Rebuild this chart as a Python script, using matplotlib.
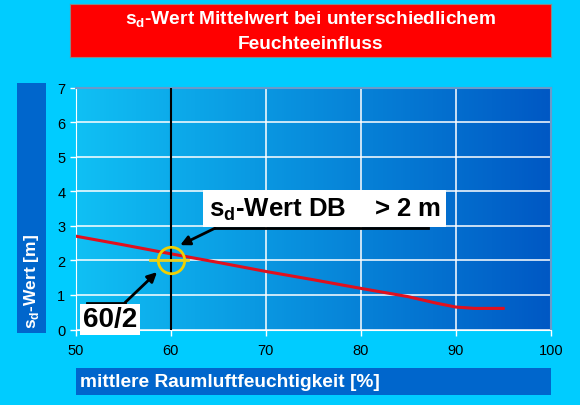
import numpy as np
import matplotlib
matplotlib.use("Agg")
import matplotlib.pyplot as plt
from matplotlib.colors import LinearSegmentedColormap

plt.rcParams['font.family'] = ['Liberation Sans', 'DejaVu Sans']
plt.rcParams['mathtext.fontset'] = 'custom'
plt.rcParams['mathtext.rm'] = 'Liberation Sans'
plt.rcParams['mathtext.bf'] = 'Liberation Sans:bold'

# data
humidity = [50, 55, 60, 65, 70, 75, 80, 85, 88, 90, 92, 95]
sd_value = [2.70, 2.45, 2.19, 1.94, 1.68, 1.44, 1.19, 0.95, 0.76, 0.65, 0.61, 0.61]
x_ticks = [50, 60, 70, 80, 90, 100]
y_ticks = [0, 1, 2, 3, 4, 5, 6, 7]
marker_x = 60
marker_y = 2

title = "s$_\\mathbf{d}$-Wert Mittelwert bei unterschiedlichem\nFeuchteeinfluss"
xlabel = "mittlere Raumluftfeuchtigkeit [%]"
ylabel = "s$_\\mathbf{d}$-Wert [m]"
note_big = "s$_\\mathbf{d}$-Wert DB    > 2 m"
note_small = "60/2"

W, H = 580, 406
bg = "#00CCFF"
fig = plt.figure(figsize=(W / 100, H / 100), dpi=100, facecolor=bg)

def px_box(x0, y0, x1, y1):
    return [x0 / W, 1 - y1 / H, (x1 - x0) / W, (y1 - y0) / H]

# title box
tax = fig.add_axes(px_box(70, 5, 551, 58))
tax.set_facecolor("#FF0000")
tax.set_xticks([]); tax.set_yticks([])
for s in tax.spines.values():
    s.set_color("#888888"); s.set_linewidth(0.8)
tax.text(0.5, 0.5, title, color="white", fontsize=13.8, fontweight="bold",
         ha="center", va="center", linespacing=1.5, transform=tax.transAxes)

# y label box
yax = fig.add_axes(px_box(17, 84, 46, 334))
yax.set_facecolor("#0066CC")
yax.set_xticks([]); yax.set_yticks([])
for s in yax.spines.values():
    s.set_visible(False)
yax.text(0.5, 0.02, ylabel, color="white", fontsize=12.5, fontweight="bold",
         rotation=90, ha="center", va="bottom", transform=yax.transAxes)

# x label box
xax = fig.add_axes(px_box(76, 369, 551, 396))
xax.set_facecolor("#0066CC")
xax.set_xticks([]); xax.set_yticks([])
for s in xax.spines.values():
    s.set_visible(False)
xax.text(0.008, 0.5, xlabel, color="white", fontsize=13.8, fontweight="bold",
         ha="left", va="center", transform=xax.transAxes)

# main plot
ax = fig.add_axes(px_box(75.7, 88.5, 550.7, 330.5))
ax.set_xlim(50, 100)
ax.set_ylim(0, 7)
cmap = LinearSegmentedColormap.from_list("grad", ["#10C0F4", "#0058C4"])
grad = np.linspace(0, 1, 256).reshape(1, -1)
ax.imshow(grad, cmap=cmap, extent=[0, 1, 0, 1], transform=ax.transAxes,
          aspect="auto", zorder=0)
ax.set_xticks(x_ticks)
ax.set_yticks(y_ticks)
ax.grid(True, color="white", linewidth=1.1, zorder=1)
ax.tick_params(colors="white", labelcolor="black", labelsize=10.5, length=4,
               direction="out", width=1)
ax.tick_params(axis="x", pad=6)
for side in ["left", "bottom"]:
    ax.spines[side].set_color("white")
for side in ["top", "right"]:
    ax.spines[side].set_color("#6A9ACA")
    ax.spines[side].set_linewidth(1.5)

ax.plot(humidity, sd_value, color="#E0101E", linewidth=2.2, zorder=3)
ax.axvline(marker_x, color="black", linewidth=1.5, zorder=4)
ax.plot([57.8, 61.8], [marker_y, marker_y], color="#E8D020", linewidth=2, zorder=5)
ax.plot([marker_x], [marker_y], marker="o", markersize=19, markerfacecolor="none",
        markeredgecolor="#F0D000", markeredgewidth=2, zorder=6)

# annotation sd-Wert DB
ax.plot([87.1, 64.66], [2.93, 2.93], color="black", linewidth=2, zorder=6)
ax.annotate("", xy=(61.0, 2.44), xytext=(64.66, 2.93),
            arrowprops=dict(arrowstyle="-|>", color="black", lw=2,
                            mutation_scale=14, shrinkA=0, shrinkB=0), zorder=7)
ax.text(76.2, 3.5, note_big, fontsize=18.5, fontweight="bold", color="black",
        ha="center", va="center", zorder=8,
        bbox=dict(boxstyle="square,pad=0.2", facecolor="white", edgecolor="none"))

# annotation 60/2
ax.plot([51.2, 55.2], [0.78, 0.78], color="black", linewidth=2, zorder=6, clip_on=False)
ax.annotate("", xy=(58.56, 1.66), xytext=(55.2, 0.78),
            arrowprops=dict(arrowstyle="-|>", color="black", lw=2,
                            mutation_scale=14, shrinkA=0, shrinkB=0), zorder=7)
ax.text(53.6, 0.29, note_small, fontsize=20, fontweight="bold", color="black",
        ha="center", va="center", zorder=8, clip_on=False,
        bbox=dict(boxstyle="square,pad=0.1", facecolor="white", edgecolor="none"))

fig.savefig("out.png", dpi=100, facecolor=bg)
